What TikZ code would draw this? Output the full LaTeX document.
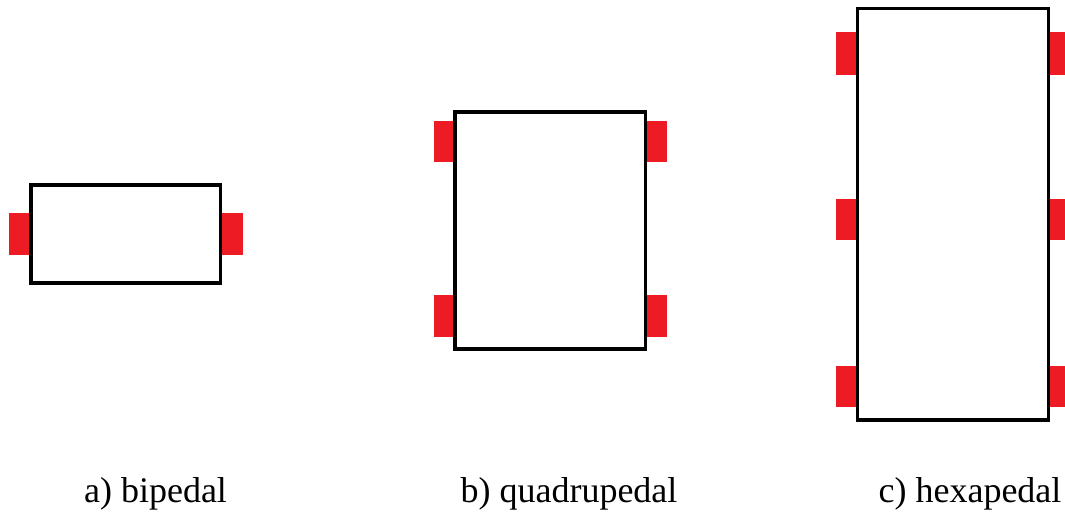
\documentclass[tikz,border=0pt]{standalone}
\usepackage{fontspec}
\setmainfont{Liberation Serif}
\definecolor{footred}{RGB}{237,28,36}
\begin{document}
\begin{tikzpicture}[x=1pt,y=1pt,
  body/.style={draw=black,line width=3.4pt,fill=white},
  foot/.style={fill=footred,draw=none},
  caption/.style={font=\fontsize{36}{42}\selectfont,anchor=base,inner sep=0pt}]
\useasboundingbox (0,0) rectangle (1065,-512);
% a) bipedal
\fill[foot] (9.3,-213.3) rectangle (31,-255);
\fill[foot] (220.5,-213.3) rectangle (242.7,-255);
\draw[body] (31,-185) rectangle (220.5,-283);
% b) quadrupedal
\fill[foot] (434,-120.7) rectangle (455,-162.3);
\fill[foot] (434,-295) rectangle (455,-336.7);
\fill[foot] (645.5,-120.7) rectangle (666.7,-162.3);
\fill[foot] (645.5,-295) rectangle (666.7,-336.7);
\draw[body] (455,-112) rectangle (645.5,-349);
% c) hexapedal
\fill[foot] (836,-32.3) rectangle (857.5,-74.7);
\fill[foot] (836,-198.7) rectangle (857.5,-240);
\fill[foot] (836,-365.7) rectangle (857.5,-407.3);
\fill[foot] (1048.3,-32.3) rectangle (1070,-74.7);
\fill[foot] (1048.3,-198.7) rectangle (1070,-240);
\fill[foot] (1048.3,-365.7) rectangle (1070,-407.3);
\draw[body] (857.5,-8.5) rectangle (1048.3,-420);
% captions
\node[caption] (ca) at (155.5,-502) {a) bipedal};
\node[caption] (cb) at (569,-502) {b) quadrupedal};
\node[caption] (cc) at (970,-502) {c) hexapedal};
\end{tikzpicture}
\end{document}
